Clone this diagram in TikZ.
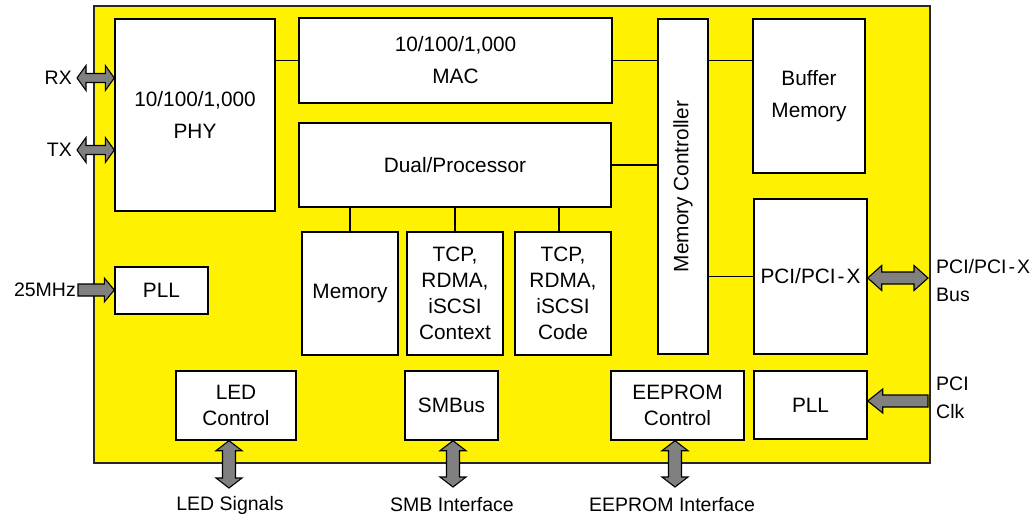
\documentclass[tikz,border=0pt]{standalone}
\usepackage{fontspec}
\setmainfont{Liberation Sans}
\usetikzlibrary{calc}

% geometry of the fat arrows: shaft half width, head half width, head length
\newcommand\setfat[3]{\def\fatw{#1}\def\fath{#2}\def\fatl{#3}}
\setfat{5.5pt}{12.5pt}{10pt}

\tikzset{
  chip/.style={fill=yellow, draw=black!85, line width=1.4pt},
  blk/.style={draw=black, fill=white, line width=1.4pt, inner sep=0pt,
    align=center, font=\fontsize{20.8}{26}\selectfont},
  wideblk/.style={blk, font=\fontsize{20.8}{32}\selectfont},
  lbl/.style={inner sep=1pt, align=left, font=\fontsize{19.5}{28}\selectfont},
  bus/.style={draw=black, line width=1.4pt},
  fatgeom/.style n args={3}{/utils/exec={\setfat{#1}{#2}{#3}}},
  fatbase/.style={draw=black, fill=black!50, line width=1.1pt, line join=miter},
  % outline of an arrow from the start point to the target point
  fatdouble/.style={fatbase, to path={
    let \p1=(\tikztostart), \p2=(\tikztotarget),
        \n1={veclen(\x2-\x1,\y2-\y1)}, \n2={(\x2-\x1)/\n1}, \n3={(\y2-\y1)/\n1} in
    ({\x1},{\y1})
    -- ({\x1+\fatl*\n2-\fath*\n3},{\y1+\fatl*\n3+\fath*\n2})
    -- ({\x1+\fatl*\n2-\fatw*\n3},{\y1+\fatl*\n3+\fatw*\n2})
    -- ({\x1+(\n1-\fatl)*\n2-\fatw*\n3},{\y1+(\n1-\fatl)*\n3+\fatw*\n2})
    -- ({\x1+(\n1-\fatl)*\n2-\fath*\n3},{\y1+(\n1-\fatl)*\n3+\fath*\n2})
    -- ({\x2},{\y2})
    -- ({\x1+(\n1-\fatl)*\n2+\fath*\n3},{\y1+(\n1-\fatl)*\n3-\fath*\n2})
    -- ({\x1+(\n1-\fatl)*\n2+\fatw*\n3},{\y1+(\n1-\fatl)*\n3-\fatw*\n2})
    -- ({\x1+\fatl*\n2+\fatw*\n3},{\y1+\fatl*\n3-\fatw*\n2})
    -- ({\x1+\fatl*\n2+\fath*\n3},{\y1+\fatl*\n3-\fath*\n2})
    -- cycle}},
  fatsingle/.style={fatbase, to path={
    let \p1=(\tikztostart), \p2=(\tikztotarget),
        \n1={veclen(\x2-\x1,\y2-\y1)}, \n2={(\x2-\x1)/\n1}, \n3={(\y2-\y1)/\n1} in
    ({\x1-\fatw*\n3},{\y1+\fatw*\n2})
    -- ({\x1+(\n1-\fatl)*\n2-\fatw*\n3},{\y1+(\n1-\fatl)*\n3+\fatw*\n2})
    -- ({\x1+(\n1-\fatl)*\n2-\fath*\n3},{\y1+(\n1-\fatl)*\n3+\fath*\n2})
    -- ({\x2},{\y2})
    -- ({\x1+(\n1-\fatl)*\n2+\fath*\n3},{\y1+(\n1-\fatl)*\n3-\fath*\n2})
    -- ({\x1+(\n1-\fatl)*\n2+\fatw*\n3},{\y1+(\n1-\fatl)*\n3-\fatw*\n2})
    -- ({\x1+\fatw*\n3},{\y1-\fatw*\n2})
    -- cycle}},
}

\begin{document}
\begin{tikzpicture}[x=1pt, y=-1pt]
\useasboundingbox (0,0) rectangle (1035,522);

% chip outline
\draw[chip] (94,6) rectangle (930,463);

% functional blocks
\node[wideblk, minimum width=160, minimum height=192] (phy) at (195,115) {10/100/1,000\\PHY};
\node[wideblk, minimum width=313, minimum height=85] (mac) at (455.5,60.5) {10/100/1,000\\MAC};
\node[blk, minimum width=312, minimum height=84] (cpu) at (455,165) {Dual/Processor};
\node[blk, minimum width=96, minimum height=123] (mem) at (350,293.5) {Memory};
\node[blk, minimum width=96, minimum height=123] (ctx) at (455,293.5) {TCP,\\RDMA,\\iSCSI\\Context};
\node[blk, minimum width=96, minimum height=123] (code) at (563,293.5) {TCP,\\RDMA,\\iSCSI\\Code};
\node[blk, minimum width=50, minimum height=335] (mc) at (683,186.5) {};
\node[rotate=90, font=\fontsize{20.8}{26}\selectfont, inner sep=0pt] (mctext) at (mc.center) {Memory Controller};
\node[wideblk, minimum width=112, minimum height=154] (buf) at (809,96) {Buffer\\Memory};
\node[blk, minimum width=113, minimum height=155] (pci) at (810.5,276.5) {PCI/PCI\kern2pt-\kern2pt X};
\node[blk, minimum width=93, minimum height=47] (pll1) at (161.5,290.5) {PLL};
\node[blk, minimum width=120, minimum height=69] (led) at (236,405.5) {LED\\Control};
\node[blk, minimum width=93, minimum height=69] (smb) at (451.5,405.5) {SMBus};
\node[blk, minimum width=133, minimum height=69] (eep) at (677.5,405.5) {EEPROM\\Control};
\node[blk, minimum width=113, minimum height=68] (pll2) at (810.5,405) {PLL};

% internal buses
\coordinate (codetap) at (559,0);
\draw[bus] (phy.east |- mac.west) -- (mac.west);
\draw[bus] (mac.east) -- (mac.east -| mc.west);
\draw[bus] (mc.east |- mac.east) -- (buf.west |- mac.east);
\draw[bus] (cpu.east) -- (cpu.east -| mc.west);
\draw[bus] (mc.east |- pci.west) -- (pci.west);
\draw[bus] (mem.north) -- (mem.north |- cpu.south);
\draw[bus] (ctx.north) -- (ctx.north |- cpu.south);
\draw[bus] (codetap |- code.north) -- (codetap |- cpu.south);

% external pins
\coordinate (rx) at (77,78);
\coordinate (tx) at (77,150);
\coordinate (clk25) at (78,290);
\coordinate (pcibus) at (928,278);
\coordinate (pciclk) at (928,401);
\coordinate (ledpin) at (229,488);
\coordinate (smbpin) at (453,487);
\coordinate (eeppin) at (675,487);

% I/O arrows
\draw[fatdouble, fatgeom={4.5pt}{12.5pt}{9pt}] (rx) to (rx -| phy.west);
\draw[fatdouble, fatgeom={4.5pt}{12.5pt}{9pt}] (tx) to (tx -| phy.west);
\draw[fatsingle, fatgeom={6pt}{12pt}{10pt}] (clk25) to (clk25 -| pll1.west);
\draw[fatdouble, fatgeom={6pt}{12.5pt}{14pt}] (pci.east |- pcibus) to (pcibus);
\draw[fatsingle, fatgeom={6pt}{12pt}{15pt}] (pciclk) to (pciclk -| pll2.east);
\draw[fatdouble, fatgeom={6.5pt}{13pt}{10pt}] (ledpin |- led.south) to (ledpin);
\draw[fatdouble, fatgeom={6.5pt}{13pt}{10pt}] (smbpin |- smb.south) to (smbpin);
\draw[fatdouble, fatgeom={6.5pt}{13pt}{10pt}] (eeppin |- eep.south) to (eeppin);

% pin labels
\node[lbl, anchor=east] (rxl) at ($(rx)+(-4,0)$) {RX};
\node[lbl, anchor=east] (txl) at ($(tx)+(-4,0)$) {TX};
\node[lbl, anchor=east] (clkl) at ($(clk25)+(-1,0)$) {25MHz};
\node[lbl, anchor=west] (pcil) at ($(pcibus)+(7,3)$) {PCI/PCI\kern2pt-\kern2pt X\\Bus};
\node[lbl, anchor=west] (clkpl) at ($(pciclk)+(7,-3)$) {PCI\\Clk};
\node[lbl] (ledl) at ($(ledpin)+(1,17)$) {LED Signals};
\node[lbl] (smbl) at ($(smbpin)+(-1,18)$) {SMB Interface};
\node[lbl] (eepl) at ($(eeppin)+(-3,18)$) {EEPROM Interface};
\end{tikzpicture}
\end{document}
